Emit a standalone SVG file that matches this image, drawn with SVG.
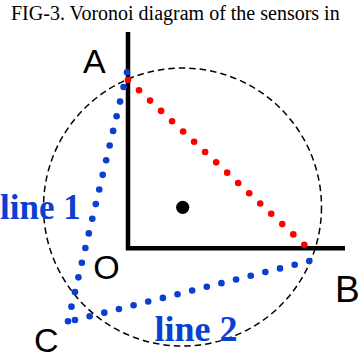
<svg xmlns="http://www.w3.org/2000/svg" width="360" height="358" viewBox="0 0 360 358">
<style>
.title{font-family:"Liberation Serif","Times New Roman",serif;font-size:20px;fill:#000}
.lbl{font-family:"Liberation Sans",Arial,sans-serif;font-size:34px;fill:#000}
.ln{font-family:"Liberation Serif","Times New Roman",serif;font-weight:bold;font-size:36px;fill:#0b3fd1}
.b{fill:#0b3fd1}
.r{fill:#ff0000}
.axis{fill:none;stroke:#000;stroke-width:4.5;stroke-linejoin:miter}
.circ{fill:none;stroke:#000;stroke-width:1.5;stroke-dasharray:6.5 4}
</style>
<rect width="360" height="358" fill="#fff"/>
<text class="title" x="11" y="19.5">FIG-3. Voronoi diagram of the sensors in</text>
<g id="circle"><circle class="circ" cx="182.5" cy="207" r="139"/></g>
<g id="axes"><path class="axis" d="M128,32 V248.3 H345"/></g>
<g id="center"><circle cx="182.7" cy="207.3" r="6.6" fill="#000"/></g>
<g id="connectors">
<g id="line1-dots" class="b">
<circle cx="127" cy="72.3" r="3.3"/><circle cx="123.53" cy="86.95" r="3.3"/><circle cx="120.06" cy="101.59" r="3.3"/><circle cx="116.59" cy="116.24" r="3.3"/><circle cx="113.12" cy="130.89" r="3.3"/><circle cx="109.65" cy="145.54" r="3.3"/><circle cx="106.18" cy="160.18" r="3.3"/><circle cx="102.71" cy="174.83" r="3.3"/><circle cx="99.24" cy="189.48" r="3.3"/><circle cx="95.76" cy="204.12" r="3.3"/><circle cx="92.29" cy="218.77" r="3.3"/><circle cx="88.82" cy="233.42" r="3.3"/><circle cx="85.35" cy="248.06" r="3.3"/><circle cx="81.88" cy="262.71" r="3.3"/><circle cx="78.41" cy="277.36" r="3.3"/><circle cx="74.94" cy="292" r="3.3"/><circle cx="71.47" cy="306.65" r="3.3"/><circle cx="68" cy="321.3" r="3.3"/>
</g>
<g id="line2-dots" class="b">
<circle cx="75" cy="320" r="3.3"/><circle cx="89.64" cy="316.31" r="3.3"/><circle cx="104.29" cy="312.63" r="3.3"/><circle cx="118.93" cy="308.94" r="3.3"/><circle cx="133.58" cy="305.25" r="3.3"/><circle cx="148.22" cy="301.56" r="3.3"/><circle cx="162.86" cy="297.88" r="3.3"/><circle cx="177.51" cy="294.19" r="3.3"/><circle cx="192.15" cy="290.5" r="3.3"/><circle cx="206.79" cy="286.81" r="3.3"/><circle cx="221.44" cy="283.13" r="3.3"/><circle cx="236.08" cy="279.44" r="3.3"/><circle cx="250.73" cy="275.75" r="3.3"/><circle cx="265.37" cy="272.06" r="3.3"/><circle cx="280.01" cy="268.38" r="3.3"/><circle cx="294.66" cy="264.69" r="3.3"/><circle cx="309.3" cy="261" r="3.3"/>
</g>
<g id="ab-dots" class="r">
<circle cx="128" cy="80" r="3.3"/><circle cx="139.02" cy="90.29" r="3.3"/><circle cx="150.04" cy="100.59" r="3.3"/><circle cx="161.06" cy="110.88" r="3.3"/><circle cx="172.08" cy="121.18" r="3.3"/><circle cx="183.09" cy="131.47" r="3.3"/><circle cx="194.11" cy="141.76" r="3.3"/><circle cx="205.13" cy="152.06" r="3.3"/><circle cx="216.15" cy="162.35" r="3.3"/><circle cx="227.17" cy="172.65" r="3.3"/><circle cx="238.19" cy="182.94" r="3.3"/><circle cx="249.21" cy="193.23" r="3.3"/><circle cx="260.23" cy="203.53" r="3.3"/><circle cx="271.25" cy="213.82" r="3.3"/><circle cx="282.27" cy="224.12" r="3.3"/><circle cx="293.28" cy="234.41" r="3.3"/><circle cx="304.3" cy="244.7" r="3.3"/>
</g>
</g>
<g id="node-A"><text class="lbl" x="83" y="72.7">A</text></g>
<g id="node-O"><text class="lbl" x="93.3" y="278.5">O</text></g>
<g id="node-B"><text class="lbl" x="335" y="302.3" style="font-size:37px">B</text></g>
<g id="node-C"><text class="lbl" x="34" y="352">C</text></g>
<g id="label-line1"><text class="ln" x="0" y="219" style="font-size:35px">line 1</text></g>
<g id="label-line2"><text class="ln" x="154.6" y="341">line 2</text></g>
</svg>
